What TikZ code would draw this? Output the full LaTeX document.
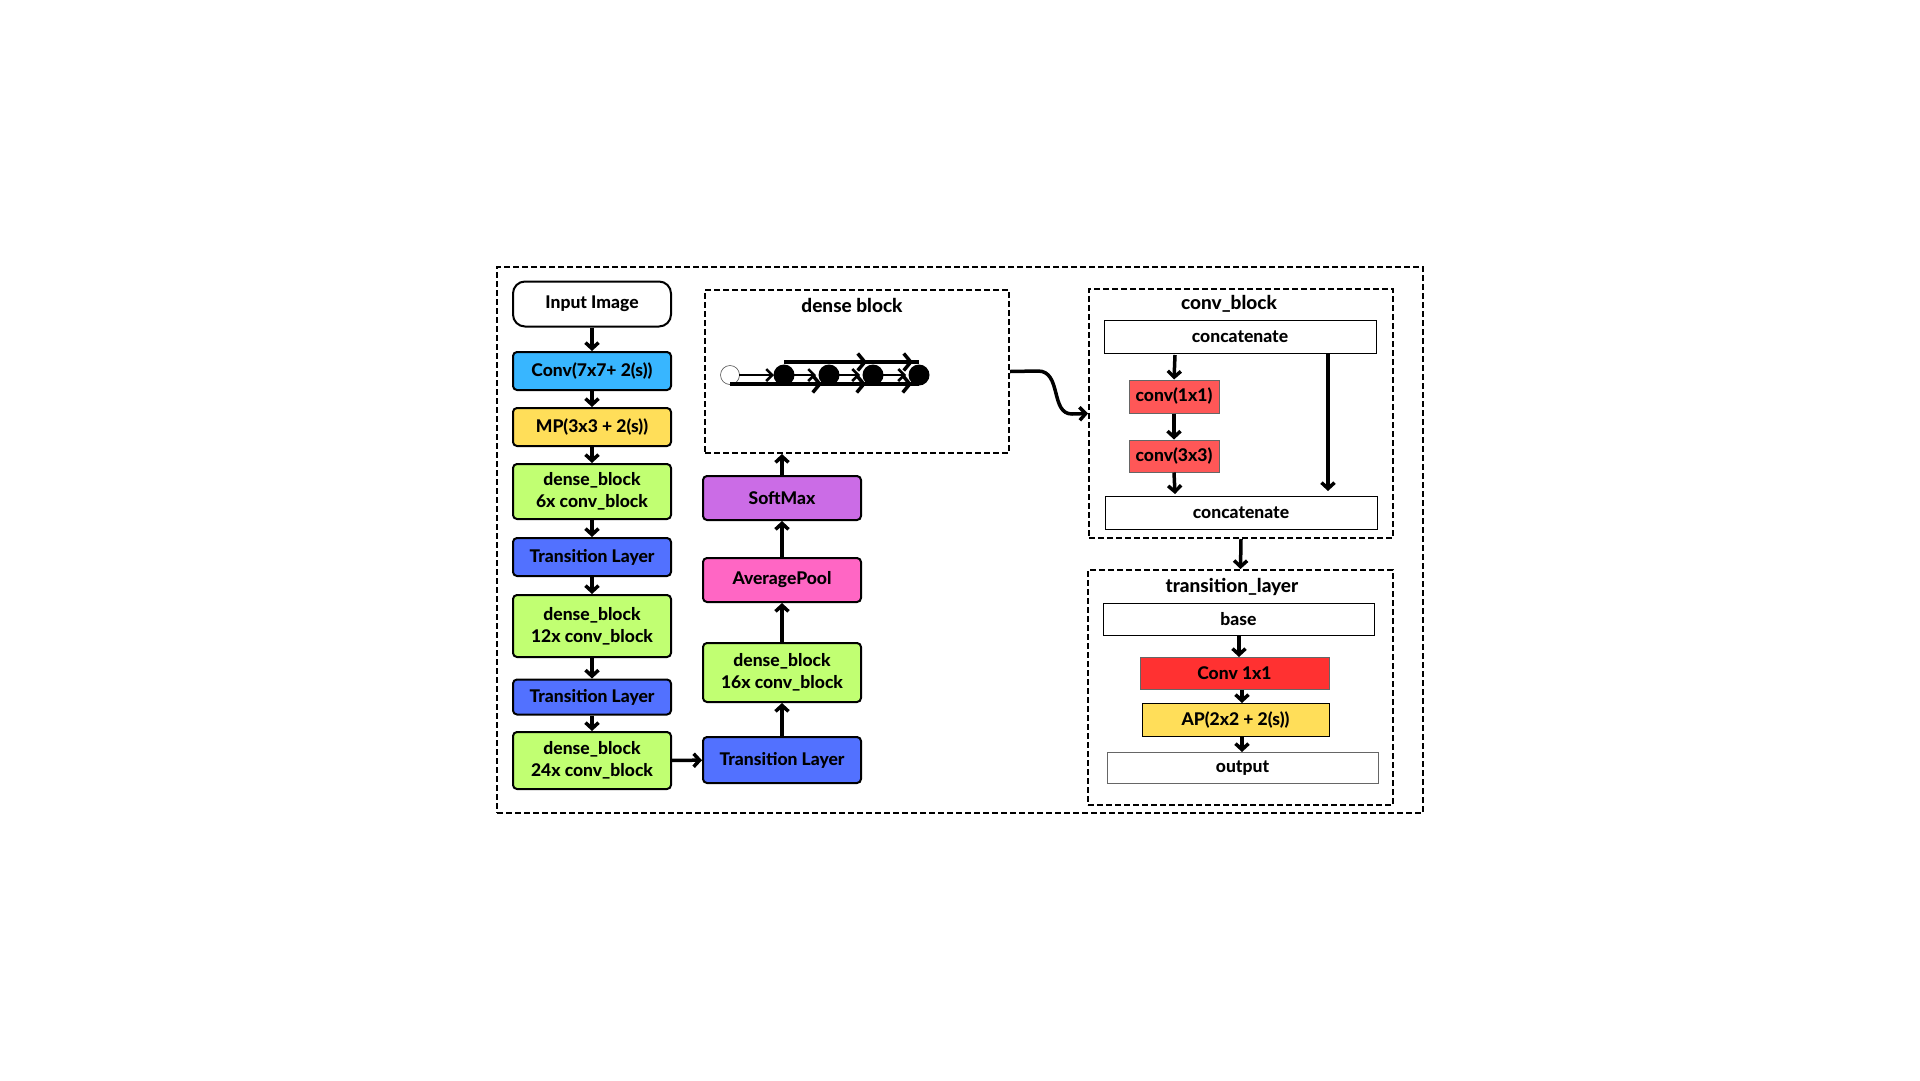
\documentclass[tikz,border=0pt]{standalone}
\usepackage{fontspec}
\setmainfont{Lato}[BoldFont={Lato Heavy}]
\usetikzlibrary{arrows.meta,calc}
\definecolor{cblue}{HTML}{38B6FF}
\definecolor{cyel}{HTML}{FFDE59}
\definecolor{cgreen}{HTML}{C1FF72}
\definecolor{ctl}{HTML}{5271FF}
\definecolor{cpurp}{HTML}{CB6CE6}
\definecolor{cpink}{HTML}{FF66C4}
\definecolor{cred}{HTML}{FF5757}
\definecolor{cred2}{HTML}{FF3131}
\tikzset{
  txt/.style={font=\fontsize{17.5}{22}\selectfont\bfseries, align=center},
  colbox/.style={txt, draw=black, line width=2pt, rounded corners=4pt, minimum width=158pt, inner sep=0pt},
  flatbox/.style={txt, draw=black, line width=1pt, inner sep=0pt},
  dashbox/.style={draw=black, line width=2pt, dash pattern=on 6pt off 3pt, inner sep=0pt},
  ttl/.style={font=\fontsize{19}{22}\selectfont\bfseries},
  arr/.style={line width=3.5pt, -{Straight Barb[length=6pt,width=13pt]}},
  thinarr/.style={line width=2.5pt, -{Straight Barb[length=6pt,width=12pt]}},
  bigarr/.style={line width=3.5pt, -{Straight Barb[length=7pt,width=17pt]}},
}
\begin{document}
\begin{tikzpicture}[x=1pt,y=-1pt]
\useasboundingbox (0,0) rectangle (1920,1080);
% outer frame
\node[dashbox, minimum width=926pt, minimum height=546pt] (outer) at (960,540) {};
% left column
\node[colbox, rounded corners=12pt, fill=white, minimum height=45pt] (input) at (592,304) {Input Image};
\node[colbox, fill=cblue, minimum height=38pt] (conv) at (592,371) {Conv(7x7+ 2(s))};
\node[colbox, fill=cyel, minimum height=38pt] (mp) at (592,427) {MP(3x3 + 2(s))};
\node[colbox, fill=cgreen, minimum height=55pt] (db6) at (592,491.5) {dense\_block\\6x conv\_block};
\node[colbox, fill=ctl, minimum height=38pt] (tl1) at (592,557) {Transition Layer};
\node[colbox, fill=cgreen, minimum height=62pt] (db12) at (592,626) {dense\_block\\12x conv\_block};
\node[colbox, fill=ctl, minimum height=35pt] (tl2) at (592,697) {Transition Layer};
\node[colbox, fill=cgreen, minimum height=57pt] (db24) at (592,760.5) {dense\_block\\24x conv\_block};
\draw[arr] (input) -- (conv);
\draw[arr] (conv) -- (mp);
\draw[arr] (mp) -- (db6);
\draw[arr] (db6) -- (tl1);
\draw[arr] (tl1) -- (db12);
\draw[arr] (db12) -- (tl2);
\draw[arr] (tl2) -- (db24);
% middle column
\node[colbox, fill=cpurp, minimum height=44pt] (soft) at (782,498) {SoftMax};
\node[colbox, fill=cpink, minimum height=44pt] (avg) at (782,580) {AveragePool};
\node[colbox, fill=cgreen, minimum height=59pt] (db16) at (782,672.5) {dense\_block\\16x conv\_block};
\node[colbox, fill=ctl, minimum height=46pt] (tl3) at (782,760) {Transition Layer};
\draw[arr] (db24) -- (tl3);
\draw[arr] (tl3) -- (db16);
\draw[arr] (db16) -- (avg);
\draw[arr] (avg) -- (soft);
% dense block box
\node[dashbox, minimum width=304pt, minimum height=163pt] (dbbox) at (857,371.5) {};
\node[ttl] (dbttl) at (852,305) {dense block};
\draw[arr] (soft.north) -- (soft.north |- dbbox.south);
% dense block drawing
\node[circle, draw=black!70, line width=0.6pt, fill=white, minimum size=19pt, inner sep=0pt] (n0) at (730,375) {};
\foreach \i/\x in {1/784,2/829,3/873,4/919}{
  \node[circle, fill=black, minimum size=21pt, inner sep=0pt] (n\i) at (\x,375) {};
}
\draw[line width=3.5pt] ($(n0)+(0,9)$) -- ($(n4)+(0,9)$);
\draw[line width=3.5pt] ($(n1)+(0,-13)$) -- ($(n4)+(0,-13)$);
\draw[thinarr] ($(n0)+(9,0)$) -- ($(n1)+(-10,0)$);
\draw[thinarr] (n1.center) -- ($(n2)+(-13,0)$);
\draw[thinarr] (n2.center) -- ($(n3)+(-13,0)$);
\draw[thinarr] (n3.center) -- ($(n4)+(-13,0)$);
\draw[bigarr] ($(n0)+(0,9)$) -- ($(n2)+(-7,9)$);
\draw[bigarr] ($(n0)+(0,9)$) -- ($(n3)+(-7,9)$);
\draw[bigarr] ($(n0)+(0,9)$) -- ($(n4)+(-7,9)$);
\draw[bigarr] ($(n1)+(0,-13)$) -- ($(n3)+(-6,-13)$);
\draw[bigarr] ($(n1)+(0,-13)$) -- ($(n4)+(-6,-13)$);
% conv_block
\node[dashbox, minimum width=304pt, minimum height=249pt] (convbox) at (1241,413.5) {};
\node[ttl] (cbttl) at (1229,304) {conv\_block};
\node[flatbox, fill=white, minimum width=272pt, minimum height=33pt] (cat1) at (1240,336.5) {concatenate};
\node[flatbox, fill=cred, draw=black!60, minimum width=90pt, minimum height=33pt] (c11) at (1174,396.5) {conv(1x1)};
\node[flatbox, fill=cred, draw=black!60, minimum width=90pt, minimum height=32pt] (c33) at (1174,456) {conv(3x3)};
\node[flatbox, fill=white, minimum width=272pt, minimum height=33pt] (cat2) at (1241,512.5) {concatenate};
\draw[arr] (1175,355) -- (c11.north);
\draw[arr] (c11) -- (c33);
\draw[arr] (c33.south) -- (1175,494);
\draw[arr] (1328,354) -- (1328,491);
\draw[arr] (dbbox.east) -- (1038,371) .. controls (1062,371) and (1050,414) .. (1072,414) -- (convbox.west);
% transition_layer
\node[dashbox, minimum width=305pt, minimum height=235pt] (tlbox) at (1240.5,687.5) {};
\node[ttl] (tlttl) at (1232,587) {transition\_layer};
\draw[arr] (convbox.south) -- (tlbox.north);
\node[flatbox, fill=white, minimum width=271pt, minimum height=32pt] (base) at (1238.5,619.5) {base};
\node[flatbox, fill=cred2, draw=black!60, minimum width=189pt, minimum height=32pt] (c1x1) at (1234.5,673.5) {Conv 1x1};
\node[flatbox, fill=cyel, minimum width=187pt, minimum height=33pt] (ap) at (1235.5,720) {AP(2x2 + 2(s))};
\node[flatbox, fill=white, draw=black!60, minimum width=271pt, minimum height=31pt] (out) at (1242.5,768) {output};
\draw[arr] (base.south -| 1239,0) -- (c1x1.north -| 1239,0);
\draw[arr] (c1x1.south -| 1242,0) -- (ap.north -| 1242,0);
\draw[arr] (ap.south -| 1242,0) -- (out.north -| 1242,0);
\end{tikzpicture}
\end{document}
